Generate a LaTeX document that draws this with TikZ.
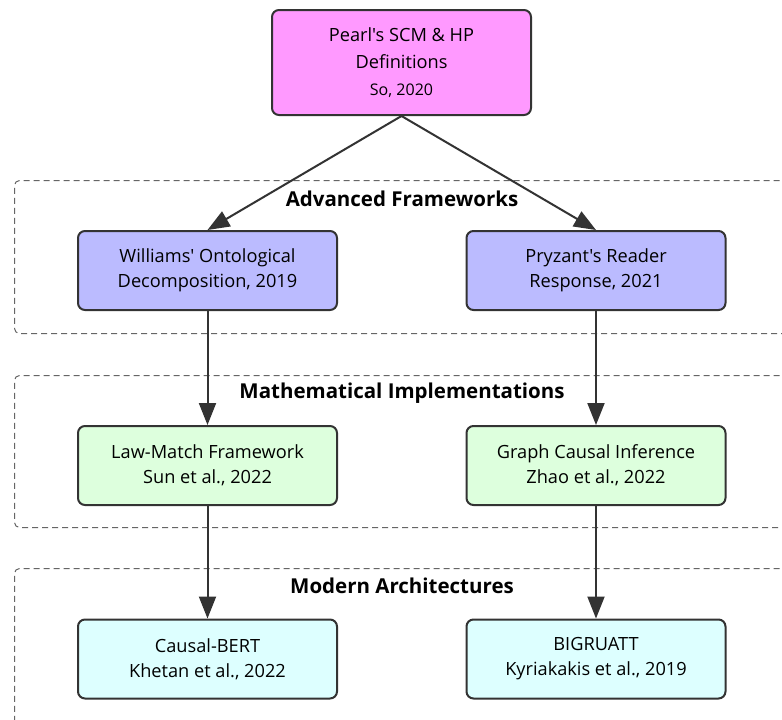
\documentclass[tikz,border=0pt]{standalone}
\usepackage{fontspec}
\setmainfont{Open Sans}[Ligatures=TeXOff]
\usetikzlibrary{arrows.meta}
\definecolor{edgec}{HTML}{333333}
\definecolor{pinkf}{HTML}{FF99FF}
\definecolor{bluef}{HTML}{BBBBFF}
\definecolor{greenf}{HTML}{DDFFDD}
\definecolor{cyanf}{HTML}{DDFFFF}
\definecolor{clusc}{HTML}{666666}
\tikzset{
  box/.style={draw=edgec, line width=2pt, rounded corners=7pt, minimum width=259pt, minimum height=79pt, align=center, inner sep=0pt, font=\fontsize{18.2}{25}\selectfont, text=black},
  clus/.style={draw=clusc, dashed, dash pattern=on 6pt off 4pt, line width=1pt, rounded corners=5pt, anchor=north west, inner sep=0pt},
  clab/.style={font=\fontsize{20.5}{24}\selectfont\bfseries, text=black},
  conn/.style={draw=edgec, line width=2pt, -{Triangle[length=22pt,width=17pt]}}
}
\begin{document}
\begin{tikzpicture}[x=1pt,y=-1pt]
\useasboundingbox (0,0) rectangle (782,720);
\clip (0,0) rectangle (782,720);
\fill[white] (0,0) rectangle (782,720);
% clusters
\node[clus, minimum width=800pt, minimum height=153pt] (c1) at (14,180) {};
\node[clus, minimum width=800pt, minimum height=152pt] (c2) at (14,375) {};
\node[clus, minimum width=800pt, minimum height=200pt] (c3) at (14,568) {};
\node[clab] (l1) at (402,199) {Advanced Frameworks};
\node[clab] (l2) at (402,393) {Mathematical Implementations};
\node[clab] (l3) at (402,586) {Modern Architectures};
% nodes
\node[box, fill=pinkf, minimum height=105pt, font=\fontsize{18.2}{27}\selectfont] (pearl) at (401.5,62.5) {Pearl's SCM \& HP\\Definitions\\{\fontsize{16}{27}\selectfont So, 2020}};
\node[box, fill=bluef] (will) at (207.5,270.5) {Williams' Ontological\\Decomposition, 2019};
\node[box, fill=bluef] (pry) at (596,270.5) {Pryzant's Reader\\Response, 2021};
\node[box, fill=greenf] (law) at (207.5,465.5) {Law-Match Framework\\Sun et al., 2022};
\node[box, fill=greenf] (graph) at (596,465.5) {Graph Causal Inference\\Zhao et al., 2022};
\node[box, fill=cyanf] (cbert) at (207.5,659) {Causal-BERT\\Khetan et al., 2022};
\node[box, fill=cyanf] (bigru) at (596,659) {BIGRUATT\\Kyriakakis et al., 2019};
% connectors
\draw[conn] (pearl.south) -- (will.north);
\draw[conn] (pearl.south) -- (pry.north);
\draw[conn] (will.south) -- (law.north);
\draw[conn] (pry.south) -- (graph.north);
\draw[conn] (law.south) -- (cbert.north);
\draw[conn] (graph.south) -- (bigru.north);
\end{tikzpicture}
\end{document}
